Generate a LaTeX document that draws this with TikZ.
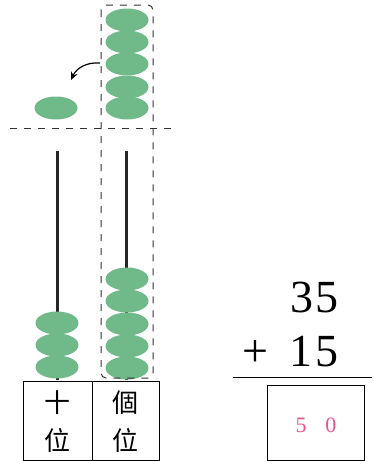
\documentclass[tikz,border=0pt]{standalone}
\usepackage{fontspec}
\newfontfamily\cjk{Noto Sans CJK TC}
\newfontfamily\numfont{Liberation Serif}
\usetikzlibrary{shapes.geometric,arrows.meta,positioning}
\definecolor{beadgreen}{RGB}{112,186,138}
\definecolor{answerpink}{RGB}{236,82,142}
\tikzset{
  bead/.style={ellipse,fill=beadgreen,minimum width=43pt,minimum height=23pt,inner sep=0pt},
  rod/.style={line width=3pt,black!85},
  guide/.style={dash pattern=on 7pt off 7pt,line width=1pt,black!80},
  place/.style={font=\cjk\fontsize{26}{26}\selectfont,inner sep=0pt},
  digits/.style={font=\numfont\fontsize{46}{46}\selectfont,anchor=base,inner sep=0pt}
}
\begin{document}
\begin{tikzpicture}[x=1pt,y=-1pt]
			\useasboundingbox (0,0) rectangle (373,461);
			
			\coordinate (T0) at (57,151);
			\coordinate (T1) at (57,380);
			\coordinate (O0) at (126,151);
			\coordinate (O1) at (126,380);
			
			% rods
			\draw[rod] (T0) -- (T1);
			\draw[rod] (O0) -- (O1);
			
			% beads
			\foreach \y in {323,345,367}
				\node[bead] at (57,\y) {};
			\foreach \y [count=\i] in {279,301,324,346,368}
				\node[bead] (ob\i) at (127,\y) {};
			\foreach \y [count=\i] in {20,42,64,87,108}
				\node[bead] (ot\i) at (127,\y) {};
			\node[bead] (moved) at (56,108) {};
			
			% dashed guides
			\draw[guide] (10,128) -- (172,128);
			\draw[guide,rounded corners=5pt] (101,5) rectangle (153,378);
			
			\coordinate (F) at (100,63);
			\coordinate (G) at (71,80);
			\draw[-{Stealth[length=8pt,width=7pt]},line width=1.2pt] (F) to[bend right=35] (G);
			
			% place value table
			\draw[line width=0.8pt] (23,381) rectangle (159,460);
			\draw[line width=0.8pt] (92,381) -- (92,460);
			\node[place] (s1) at (57,403) {十};
			\node[place] (s2) at (57,440) {位};
			\node[place] (g1) at (125,403) {個};
			\node[place] (g2) at (125,440) {位};
			
			% vertical addition
			\node[digits] (a) at (314.5,312) {3\kern3pt5};
			\node[digits] (b) at (290.5,366) {+\kern22pt1\kern3pt5};
			\draw[line width=1pt] (233,377) -- (372,377);
			\draw[line width=0.9pt] (267,385) rectangle (364,460);
			\node[anchor=base,inner sep=0pt,answerpink,font=\numfont\fontsize{22}{22}\selectfont] (ans) at (316,432) {5\kern19pt0};
			
		\end{tikzpicture}
\end{document}
